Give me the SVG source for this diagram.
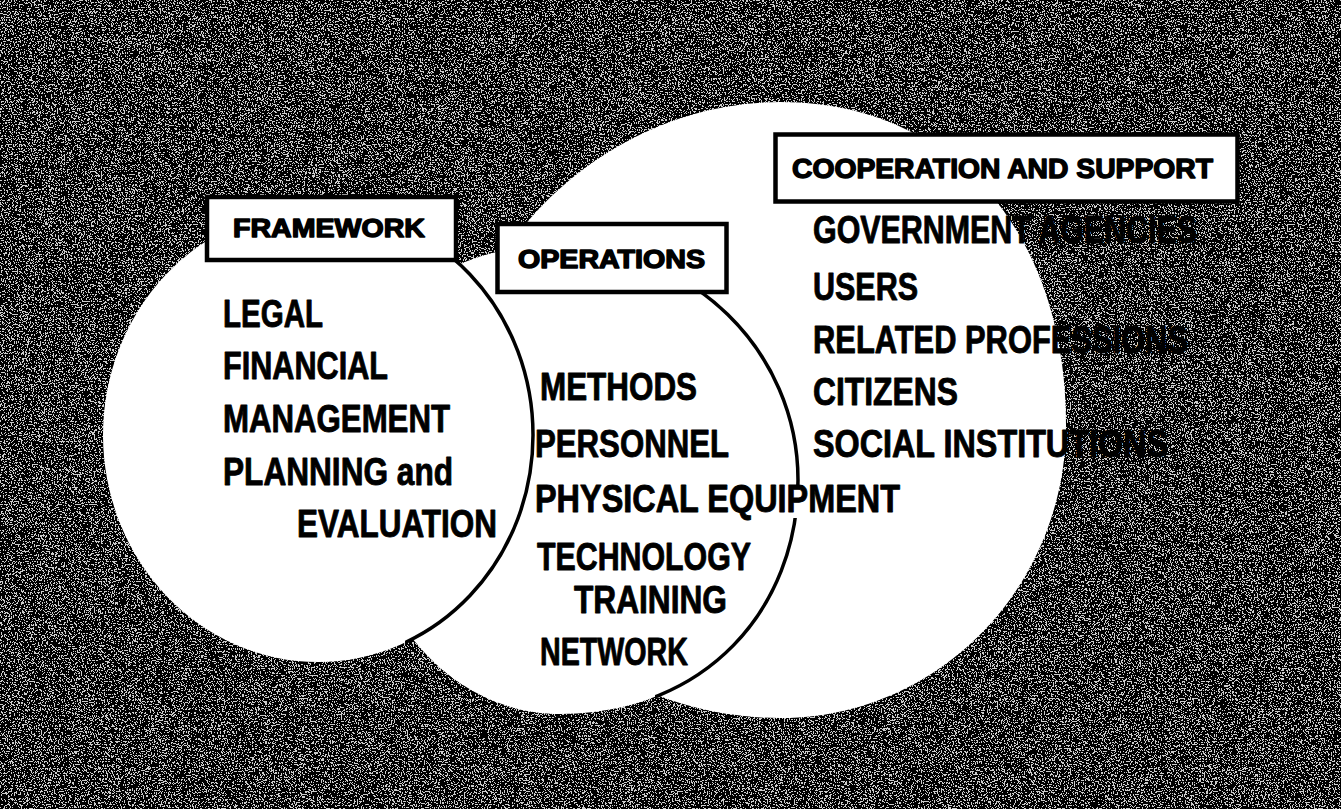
<svg xmlns="http://www.w3.org/2000/svg" width="1341" height="809" viewBox="0 0 1341 809">
  <defs>
    <style>
      .disc { fill: #fff; }
      .rim { fill: none; stroke: #000; stroke-width: 3.5; }
      .tag { fill: #fff; stroke: #000; stroke-width: 4.5; }
      .tag-text { font-family: "Liberation Sans", Arial, sans-serif; font-weight: 700; fill: #000; stroke: #000; stroke-width: 1.4; stroke-linejoin: round; }
      .item { font-family: "Liberation Sans", Arial, sans-serif; font-weight: 700; font-size: 38.5px; fill: #000; stroke: #000; stroke-width: 0.9; stroke-linejoin: round; }
    </style>
    <!-- speckled halftone ground: product of two independent thresholded noises -->
    <filter id="grain" filterUnits="userSpaceOnUse" x="0" y="0" width="1341" height="809" color-interpolation-filters="sRGB">
      <feTurbulence type="fractalNoise" baseFrequency="0.7" numOctaves="1" seed="7" result="na"/>
      <feColorMatrix in="na" type="matrix" values="1 0 0 0 0  1 0 0 0 0  1 0 0 0 0  0 0 0 0 1" result="ga"/>
      <feComponentTransfer in="ga" result="ma">
        <feFuncR type="discrete" tableValues="0 1"/>
        <feFuncG type="discrete" tableValues="0 1"/>
        <feFuncB type="discrete" tableValues="0 1"/>
      </feComponentTransfer>
      <feTurbulence type="fractalNoise" baseFrequency="0.7" numOctaves="1" seed="23" result="nb"/>
      <feColorMatrix in="nb" type="matrix" values="1 0 0 0 0  1 0 0 0 0  1 0 0 0 0  0 0 0 0 1" result="gb"/>
      <feComponentTransfer in="gb" result="mb">
        <feFuncR type="discrete" tableValues="0 1"/>
        <feFuncG type="discrete" tableValues="0 1"/>
        <feFuncB type="discrete" tableValues="0 1"/>
      </feComponentTransfer>
      <feComposite in="ma" in2="mb" operator="arithmetic" k1="1" k2="0" k3="0" k4="0"/>
    </filter>
    <clipPath id="clip-framework-rim"><rect x="405" y="258" width="200" height="390"/></clipPath>
    <clipPath id="clip-operations-rim"><rect x="655" y="290" width="200" height="410"/></clipPath>
    <mask id="rim-gap" maskUnits="userSpaceOnUse" x="0" y="0" width="1341" height="809">
      <rect x="0" y="0" width="1341" height="809" fill="#fff"/>
      <rect x="789" y="486" width="18" height="32" fill="#000"/>
    </mask>
  </defs>

  <!-- background -->
  <rect x="0" y="0" width="1341" height="809" fill="#000"/>
  <rect x="0" y="0" width="1341" height="809" filter="url(#grain)" opacity="0.8"/>

  <!-- cooperation and support -->
  <g id="cooperation">
    <path class="disc" d="M 780,102 C 951.6,102 1066,231 1066,425 C 1066,587 938,718 780,718 C 600.5,718 455,580 455,410 C 455,246.8 607.7,102 780,102 Z"/>
    <rect class="tag" x="775.5" y="134.5" width="462" height="67"/>
    <text class="tag-text" x="792" y="178" font-size="27" textLength="421" lengthAdjust="spacingAndGlyphs">COOPERATION AND SUPPORT</text>
    <text class="item" x="813" y="243" textLength="384" lengthAdjust="spacingAndGlyphs">GOVERNMENT AGENCIES</text>
    <text class="item" x="813" y="300" textLength="105" lengthAdjust="spacingAndGlyphs">USERS</text>
    <text class="item" x="813" y="353" textLength="375" lengthAdjust="spacingAndGlyphs">RELATED PROFESSIONS</text>
    <text class="item" x="813" y="405" textLength="145" lengthAdjust="spacingAndGlyphs">CITIZENS</text>
    <text class="item" x="813" y="457" textLength="355" lengthAdjust="spacingAndGlyphs">SOCIAL INSTITUTIONS</text>
  </g>

  <!-- operations -->
  <g id="operations">
    <path class="disc" d="M 560,714 C 705,714 798,609 798,480 C 798,350.8 690.6,246 558,246 C 421.5,246 363,319.2 363,490 C 363,613.7 451,714 560,714 Z"/>
    <g clip-path="url(#clip-operations-rim)">
      <path class="rim" mask="url(#rim-gap)" d="M 560,714 C 705,714 798,609 798,480 C 798,350.8 690.6,246 558,246"/>
    </g>
    <rect class="tag" x="497.5" y="224" width="229" height="68"/>
    <text class="tag-text" x="518" y="268" font-size="25" textLength="187" lengthAdjust="spacingAndGlyphs">OPERATIONS</text>
    <text class="item" x="540" y="400" textLength="157" lengthAdjust="spacingAndGlyphs">METHODS</text>
    <text class="item" x="535" y="457" textLength="194" lengthAdjust="spacingAndGlyphs">PERSONNEL</text>
    <text class="item" x="535" y="512" textLength="365" lengthAdjust="spacingAndGlyphs">PHYSICAL EQUIPMENT</text>
    <text class="item" x="537" y="570" textLength="214" lengthAdjust="spacingAndGlyphs">TECHNOLOGY</text>
    <text class="item" x="574" y="613" textLength="153" lengthAdjust="spacingAndGlyphs">TRAINING</text>
    <text class="item" x="540" y="665" textLength="148" lengthAdjust="spacingAndGlyphs">NETWORK</text>
  </g>

  <!-- framework -->
  <g id="framework">
    <ellipse class="disc" cx="318" cy="435" rx="215" ry="227"/>
    <g clip-path="url(#clip-framework-rim)">
      <ellipse class="rim" cx="318" cy="435" rx="215" ry="227"/>
    </g>
    <rect class="tag" x="207" y="197" width="249" height="63"/>
    <text class="tag-text" x="233" y="237" font-size="26" textLength="192" lengthAdjust="spacingAndGlyphs">FRAMEWORK</text>
    <text class="item" x="223" y="327" textLength="100" lengthAdjust="spacingAndGlyphs">LEGAL</text>
    <text class="item" x="223" y="379" textLength="165" lengthAdjust="spacingAndGlyphs">FINANCIAL</text>
    <text class="item" x="223" y="432" textLength="227" lengthAdjust="spacingAndGlyphs">MANAGEMENT</text>
    <text class="item" x="223" y="485" textLength="230" lengthAdjust="spacingAndGlyphs">PLANNING and</text>
    <text class="item" x="297" y="537" textLength="200" lengthAdjust="spacingAndGlyphs">EVALUATION</text>
  </g>
</svg>
